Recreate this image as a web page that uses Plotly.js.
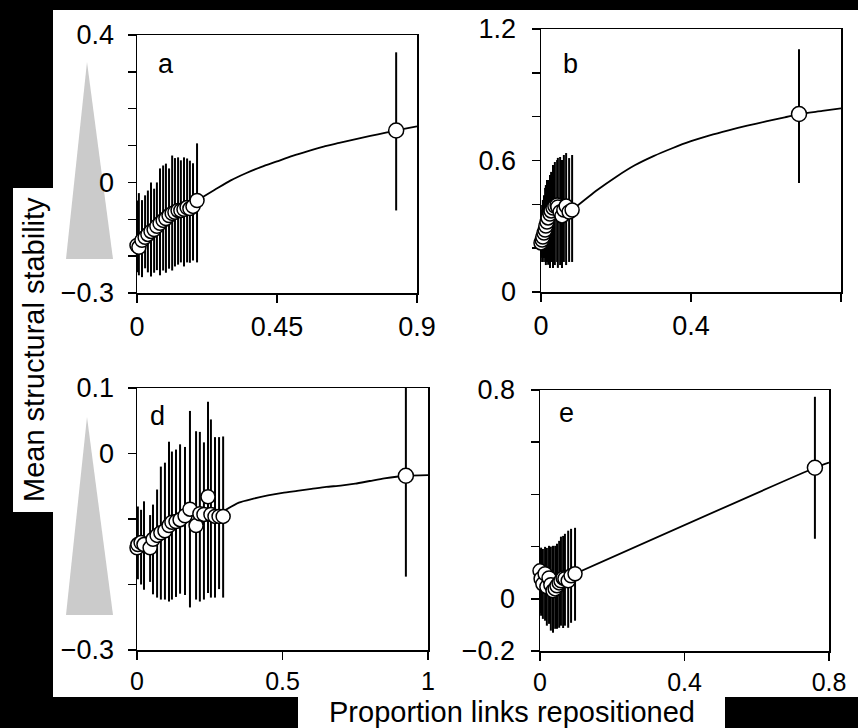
<!DOCTYPE html>
<html>
<head>
<meta charset="utf-8">
<script src="https://cdn.plot.ly/plotly-3.0.1.min.js"></script>
<style>html,body{margin:0;padding:0;background:#000;}#chart{width:858px;height:728px;}</style>
</head>
<body>
<div id="chart"></div>
<script>
// ---------- Panel a ----------
const aX = [0, 0.006, 0.016, 0.026, 0.035, 0.045, 0.055, 0.064, 0.074, 0.084, 0.093, 0.103, 0.113, 0.122, 0.132, 0.141, 0.151, 0.161, 0.170, 0.180, 0.193];
const aY = [-0.171, -0.176, -0.157, -0.149, -0.141, -0.133, -0.128, -0.119, -0.111, -0.103, -0.098, -0.090, -0.084, -0.081, -0.076, -0.076, -0.073, -0.068, -0.071, -0.065, -0.049];
const aUp = [0.122, 0.147, 0.109, 0.114, 0.119, 0.133, 0.111, 0.119, 0.149, 0.149, 0.149, 0.128, 0.157, 0.147, 0.144, 0.136, 0.141, 0.133, 0.130, 0.117, 0.155];
const aDn = [0.073, 0.076, 0.100, 0.084, 0.103, 0.122, 0.117, 0.119, 0.141, 0.136, 0.147, 0.144, 0.155, 0.147, 0.147, 0.141, 0.155, 0.149, 0.147, 0.147, 0.168];
const aFarX = [0.833], aFarY = [0.141], aFarUp = [0.212], aFarDn = [0.217];
const aCurveX = [0.193, 0.25, 0.30, 0.35, 0.40, 0.45, 0.50, 0.55, 0.60, 0.65, 0.70, 0.75, 0.80, 0.833, 0.90];
const aCurveY = [-0.049, -0.020, 0.005, 0.025, 0.042, 0.057, 0.072, 0.085, 0.097, 0.107, 0.117, 0.126, 0.135, 0.141, 0.152];
const aXTicks = [0, 0.45, 0.9], aXText = ['0', '0.45', '0.9'];
const aYTicks = [-0.3, -0.2, -0.1, 0, 0.1, 0.2, 0.3, 0.4], aYText = ['\u22120.3', '', '', '0', '', '', '', '0.4'];

// ---------- Panel b ----------
const bX = [0, 0.003, 0.005, 0.008, 0.011, 0.013, 0.016, 0.019, 0.024, 0.027, 0.032, 0.037, 0.043, 0.045, 0.051, 0.056, 0.061, 0.067, 0.075, 0.083];
const bY = [0.224, 0.237, 0.251, 0.269, 0.283, 0.301, 0.319, 0.338, 0.356, 0.370, 0.383, 0.392, 0.397, 0.388, 0.365, 0.347, 0.374, 0.392, 0.365, 0.374];
const bUp = [0.151, 0.160, 0.169, 0.173, 0.192, 0.187, 0.192, 0.173, 0.178, 0.178, 0.196, 0.201, 0.205, 0.224, 0.251, 0.255, 0.251, 0.242, 0.246, 0.251];
const bDn = [0.068, 0.100, 0.114, 0.114, 0.146, 0.178, 0.182, 0.214, 0.246, 0.233, 0.274, 0.269, 0.260, 0.278, 0.242, 0.237, 0.237, 0.269, 0.228, 0.237];
const bFarX = [0.688], bFarY = [0.812], bFarUp = [0.296], bFarDn = [0.315];
const bCurveX = [0.083, 0.15, 0.20, 0.25, 0.30, 0.35, 0.40, 0.45, 0.50, 0.55, 0.60, 0.65, 0.688, 0.75, 0.80];
const bCurveY = [0.374, 0.465, 0.525, 0.578, 0.620, 0.656, 0.688, 0.715, 0.738, 0.759, 0.778, 0.797, 0.812, 0.826, 0.838];
const bXTicks = [0, 0.4, 0.8], bXText = ['0', '0.4', '0.8'];
const bYTicks = [0, 0.2, 0.4, 0.6, 0.8, 1.0, 1.2], bYText = ['0', '', '', '0.6', '', '', '1.2'];

// ---------- Panel d ----------
const dX = [0, 0.003, 0.014, 0.024, 0.045, 0.055, 0.069, 0.082, 0.096, 0.110, 0.120, 0.134, 0.148, 0.165, 0.182, 0.203, 0.216, 0.230, 0.244, 0.254, 0.268, 0.282, 0.296];
const dY = [-0.144, -0.139, -0.136, -0.139, -0.144, -0.131, -0.125, -0.121, -0.118, -0.110, -0.105, -0.104, -0.101, -0.095, -0.085, -0.110, -0.092, -0.093, -0.066, -0.093, -0.096, -0.096, -0.096];
const dUp = [0.043, 0.058, 0.050, 0.066, 0.050, 0.053, 0.070, 0.101, 0.104, 0.128, 0.108, 0.110, 0.115, 0.105, 0.150, 0.144, 0.125, 0.110, 0.145, 0.145, 0.121, 0.121, 0.122];
const dDn = [0.041, 0.053, 0.064, 0.069, 0.052, 0.084, 0.095, 0.102, 0.105, 0.116, 0.118, 0.115, 0.113, 0.121, 0.150, 0.113, 0.134, 0.130, 0.147, 0.127, 0.124, 0.111, 0.124];
const dFarX = [0.924], dFarY = [-0.034], dFarUp = [0.154], dFarDn = [0.154];
const dCurveX = [0.29, 0.35, 0.40, 0.45, 0.50, 0.55, 0.60, 0.65, 0.70, 0.75, 0.80, 0.85, 0.924, 1.0];
const dCurveY = [-0.090, -0.075, -0.069, -0.064, -0.060, -0.057, -0.054, -0.051, -0.049, -0.046, -0.042, -0.038, -0.034, -0.033];
const dXTicks = [0, 0.5, 1], dXText = ['0', '0.5', '1'];
const dYTicks = [-0.3, -0.2, -0.1, 0, 0.1], dYText = ['\u22120.3', '', '', '0', '0.1'];

// ---------- Panel e ----------
const eX = [0, 0.003, 0.008, 0.014, 0.019, 0.025, 0.030, 0.036, 0.042, 0.047, 0.053, 0.058, 0.064, 0.069, 0.078, 0.086, 0.097];
const eY = [0.107, 0.077, 0.057, 0.096, 0.046, 0.080, 0.054, 0.031, 0.038, 0.050, 0.061, 0.069, 0.080, 0.077, 0.069, 0.088, 0.096];
const eUp = [0.084, 0.119, 0.134, 0.103, 0.149, 0.123, 0.146, 0.172, 0.165, 0.161, 0.161, 0.169, 0.161, 0.172, 0.192, 0.180, 0.176];
const eDn = [0.161, 0.142, 0.134, 0.180, 0.149, 0.176, 0.176, 0.161, 0.153, 0.165, 0.172, 0.172, 0.192, 0.180, 0.180, 0.180, 0.180];
const eFarX = [0.761], eFarY = [0.502], eFarUp = [0.272], eFarDn = [0.272];
const eCurveX = [0.097, 0.761, 0.80];
const eCurveY = [0.096, 0.502, 0.522];
const eXTicks = [0, 0.4, 0.8], eXText = ['0', '0.4', '0.8'];
const eYTicks = [-0.2, 0, 0.2, 0.4, 0.6, 0.8], eYText = ['\u22120.2', '0', '', '', '', '0.8'];

// ---------- Labels ----------
const panelLabels = ['a', 'b', 'd', 'e'];
const yTitle = 'Mean structural stability';
const xTitle = 'Proportion links repositioned';

const FONT = 'Liberation Sans, Arial, Helvetica, sans-serif';
const W = 858, H = 728;
const px = v => v / W;
const py = v => 1 - v / H;

function panelTraces(n, X, Y, Up, Dn, FX, FY, FUp, FDn, CX, CY) {
  const xa = n === 1 ? 'x' : 'x' + n, ya = n === 1 ? 'y' : 'y' + n;
  const mk = {symbol: 'circle', size: 14, color: 'white', line: {color: 'black', width: 1.5}};
  return [
    {type: 'scatter', mode: 'lines', x: CX, y: CY, xaxis: xa, yaxis: ya,
     line: {color: 'black', width: 1.8, shape: 'spline', smoothing: 0.6}, hoverinfo: 'skip'},
    {type: 'scatter', mode: 'markers', x: FX, y: FY, xaxis: xa, yaxis: ya, marker: Object.assign({}, mk, {size: 15}),
     error_y: {type: 'data', symmetric: false, array: FUp, arrayminus: FDn, color: 'black', thickness: 2, width: 0}},
    {type: 'scatter', mode: 'markers', x: X, y: Y, xaxis: xa, yaxis: ya, marker: mk, cliponaxis: false,
     error_y: {type: 'data', symmetric: false, array: Up, arrayminus: Dn, color: 'black', thickness: 2, width: 0}}
  ];
}

const data = [].concat(
  panelTraces(1, aX, aY, aUp, aDn, aFarX, aFarY, aFarUp, aFarDn, aCurveX, aCurveY),
  panelTraces(2, bX, bY, bUp, bDn, bFarX, bFarY, bFarUp, bFarDn, bCurveX, bCurveY),
  panelTraces(3, dX, dY, dUp, dDn, dFarX, dFarY, dFarUp, dFarDn, dCurveX, dCurveY),
  panelTraces(4, eX, eY, eUp, eDn, eFarX, eFarY, eFarUp, eFarDn, eCurveX, eCurveY)
);

function axisBase(extra) {
  return Object.assign({
    showline: true, linecolor: 'black', linewidth: 1.5, mirror: true,
    ticks: 'outside', ticklen: 8, tickwidth: 1.5, tickcolor: 'black',
    showgrid: false, zeroline: false, tickmode: 'array', fixedrange: true,
    tickfont: {family: FONT, size: 27, color: 'black'}, layer: 'below traces'
  }, extra);
}
const lowTickFont = {family: FONT, size: 25, color: 'black'};

function ann(text, x, y, size, angle) {
  return {text: text, xref: 'paper', yref: 'paper', x: px(x), y: py(y), xanchor: 'center', yanchor: 'middle',
          textangle: angle || 0, showarrow: false, borderpad: 0, font: {family: FONT, size: size, color: 'black'}};
}

const layout = {
  width: W, height: H,
  margin: {l: 0, r: 0, t: 0, b: 0},
  paper_bgcolor: 'black', plot_bgcolor: 'white',
  showlegend: false,
  font: {family: FONT, color: 'black'},
  xaxis:  axisBase({domain: [px(137), px(417)], range: [0, 0.9], tickvals: aXTicks, ticktext: aXText, anchor: 'y', ticklabelstandoff: 1}),
  yaxis:  axisBase({domain: [py(293), py(35)], range: [-0.3, 0.4], tickvals: aYTicks, ticktext: aYText, anchor: 'x', ticklabelstandoff: 8}),
  xaxis2: axisBase({domain: [px(541), px(841)], range: [0, 0.8], tickvals: bXTicks, ticktext: bXText, anchor: 'y2', ticklabelstandoff: 1}),
  yaxis2: axisBase({domain: [py(292), py(29)], range: [0, 1.2], tickvals: bYTicks, ticktext: bYText, anchor: 'x2', ticklabelstandoff: 10}),
  xaxis3: axisBase({domain: [px(137), px(428)], range: [0, 1], tickvals: dXTicks, ticktext: dXText, anchor: 'y3', ticklabelstandoff: 0, tickfont: lowTickFont}),
  yaxis3: axisBase({domain: [py(650), py(388)], range: [-0.3, 0.1], tickvals: dYTicks, ticktext: dYText, anchor: 'x3', ticklabelstandoff: 8}),
  xaxis4: axisBase({domain: [px(540), px(829)], range: [0, 0.8], tickvals: eXTicks, ticktext: eXText, anchor: 'y4', ticklabelstandoff: 0, tickfont: lowTickFont}),
  yaxis4: axisBase({domain: [py(651), py(390)], range: [-0.2, 0.8], tickvals: eYTicks, ticktext: eYText, anchor: 'x4', ticklabelstandoff: 10}),
  shapes: [
    {type: 'rect', xref: 'paper', yref: 'paper', x0: px(53), x1: 1, y0: py(697), y1: py(10), fillcolor: 'white', line: {width: 0}, layer: 'below'},
    {type: 'rect', xref: 'paper', yref: 'paper', x0: px(13), x1: px(54), y0: py(512), y1: py(188), fillcolor: 'white', line: {width: 0}, layer: 'below'},
    {type: 'rect', xref: 'paper', yref: 'paper', x0: px(298), x1: px(725), y0: 0, y1: py(697), fillcolor: 'white', line: {width: 0}, layer: 'below'},
    {type: 'path', xref: 'paper', yref: 'paper', fillcolor: '#cbcbcb', line: {width: 0}, layer: 'below',
     path: `M ${px(87)},${py(62)} L ${px(113)},${py(259)} L ${px(66)},${py(259)} Z`},
    {type: 'path', xref: 'paper', yref: 'paper', fillcolor: '#cbcbcb', line: {width: 0}, layer: 'below',
     path: `M ${px(87)},${py(417)} L ${px(113)},${py(615)} L ${px(66)},${py(615)} Z`}
  ],
  annotations: [
    ann(panelLabels[0], 166, 64, 27),
    ann(panelLabels[1], 570, 64, 27),
    ann(panelLabels[2], 157, 416, 27),
    ann(panelLabels[3], 566, 413, 27),
    ann(yTitle, 34, 350, 29, -90),
    ann(xTitle, 512, 712, 29)
  ]
};

Plotly.newPlot('chart', data, layout, {staticPlot: true, displayModeBar: false});
</script>
</body>
</html>
